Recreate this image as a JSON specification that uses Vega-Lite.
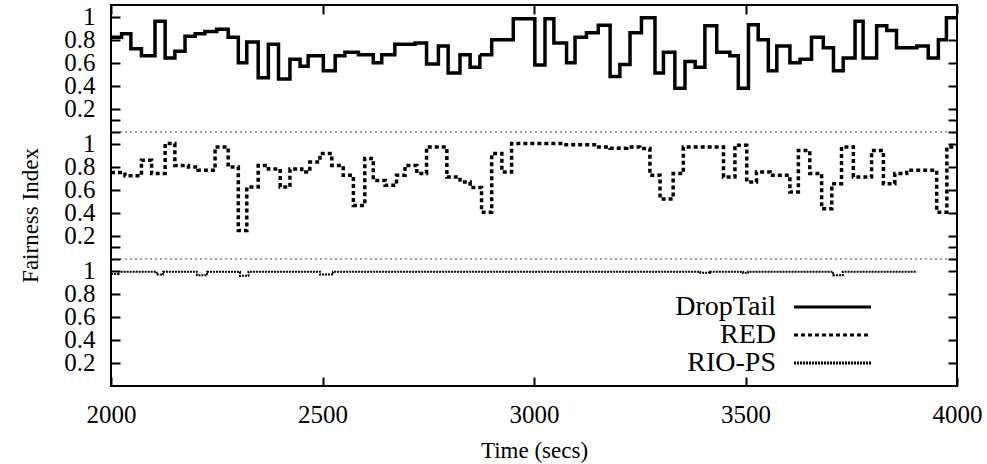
{
  "$schema": "https://vega.github.io/schema/vega-lite/v6.json",
  "width": 846,
  "height": 381,
  "autosize": {"type": "none"},
  "padding": {"left": 111, "top": 5, "right": 30, "bottom": 78},
  "background": "white",
  "config": {
    "font": "Liberation Serif",
    "view": {"stroke": "black", "strokeWidth": 2},
    "axis": {
      "grid": false,
      "domain": false,
      "ticks": true,
      "tickColor": "black",
      "tickWidth": 2,
      "labelColor": "black",
      "titleColor": "black",
      "labelFont": "Liberation Serif",
      "titleFont": "Liberation Serif",
      "labelFontSize": 25,
      "titleFontSize": 23,
      "titleFontWeight": "normal",
      "labelOverlap": false
    }
  },
  "data": {
    "values": [
      {"s": "DropTail", "t": 2000, "v": 0.82},
      {"s": "DropTail", "t": 2025, "v": 0.85},
      {"s": "DropTail", "t": 2047, "v": 0.72},
      {"s": "DropTail", "t": 2072, "v": 0.66},
      {"s": "DropTail", "t": 2104, "v": 0.96},
      {"s": "DropTail", "t": 2128, "v": 0.64},
      {"s": "DropTail", "t": 2151, "v": 0.70},
      {"s": "DropTail", "t": 2175, "v": 0.83},
      {"s": "DropTail", "t": 2199, "v": 0.85},
      {"s": "DropTail", "t": 2222, "v": 0.87},
      {"s": "DropTail", "t": 2250, "v": 0.89},
      {"s": "DropTail", "t": 2277, "v": 0.82},
      {"s": "DropTail", "t": 2301, "v": 0.60},
      {"s": "DropTail", "t": 2321, "v": 0.78},
      {"s": "DropTail", "t": 2348, "v": 0.47},
      {"s": "DropTail", "t": 2372, "v": 0.76},
      {"s": "DropTail", "t": 2396, "v": 0.46},
      {"s": "DropTail", "t": 2423, "v": 0.63},
      {"s": "DropTail", "t": 2447, "v": 0.57},
      {"s": "DropTail", "t": 2466, "v": 0.66},
      {"s": "DropTail", "t": 2502, "v": 0.53},
      {"s": "DropTail", "t": 2530, "v": 0.66},
      {"s": "DropTail", "t": 2553, "v": 0.69},
      {"s": "DropTail", "t": 2585, "v": 0.67},
      {"s": "DropTail", "t": 2620, "v": 0.60},
      {"s": "DropTail", "t": 2640, "v": 0.67},
      {"s": "DropTail", "t": 2671, "v": 0.76},
      {"s": "DropTail", "t": 2719, "v": 0.77},
      {"s": "DropTail", "t": 2746, "v": 0.59},
      {"s": "DropTail", "t": 2774, "v": 0.745},
      {"s": "DropTail", "t": 2797, "v": 0.51},
      {"s": "DropTail", "t": 2825, "v": 0.67},
      {"s": "DropTail", "t": 2849, "v": 0.56},
      {"s": "DropTail", "t": 2872, "v": 0.67},
      {"s": "DropTail", "t": 2900, "v": 0.80},
      {"s": "DropTail", "t": 2951, "v": 0.98},
      {"s": "DropTail", "t": 3002, "v": 0.58},
      {"s": "DropTail", "t": 3026, "v": 0.98},
      {"s": "DropTail", "t": 3047, "v": 0.77},
      {"s": "DropTail", "t": 3077, "v": 0.60},
      {"s": "DropTail", "t": 3097, "v": 0.82},
      {"s": "DropTail", "t": 3124, "v": 0.86},
      {"s": "DropTail", "t": 3152, "v": 0.925},
      {"s": "DropTail", "t": 3180, "v": 0.48},
      {"s": "DropTail", "t": 3203, "v": 0.585},
      {"s": "DropTail", "t": 3227, "v": 0.86},
      {"s": "DropTail", "t": 3254, "v": 0.99},
      {"s": "DropTail", "t": 3286, "v": 0.51},
      {"s": "DropTail", "t": 3306, "v": 0.69},
      {"s": "DropTail", "t": 3333, "v": 0.38},
      {"s": "DropTail", "t": 3357, "v": 0.61},
      {"s": "DropTail", "t": 3381, "v": 0.56},
      {"s": "DropTail", "t": 3404, "v": 0.92},
      {"s": "DropTail", "t": 3432, "v": 0.69},
      {"s": "DropTail", "t": 3463, "v": 0.66},
      {"s": "DropTail", "t": 3483, "v": 0.38},
      {"s": "DropTail", "t": 3507, "v": 0.93},
      {"s": "DropTail", "t": 3530, "v": 0.80},
      {"s": "DropTail", "t": 3554, "v": 0.53},
      {"s": "DropTail", "t": 3574, "v": 0.745},
      {"s": "DropTail", "t": 3605, "v": 0.60},
      {"s": "DropTail", "t": 3629, "v": 0.63},
      {"s": "DropTail", "t": 3656, "v": 0.82},
      {"s": "DropTail", "t": 3684, "v": 0.73},
      {"s": "DropTail", "t": 3708, "v": 0.53},
      {"s": "DropTail", "t": 3731, "v": 0.64},
      {"s": "DropTail", "t": 3759, "v": 0.96},
      {"s": "DropTail", "t": 3778, "v": 0.64},
      {"s": "DropTail", "t": 3810, "v": 0.92},
      {"s": "DropTail", "t": 3834, "v": 0.88},
      {"s": "DropTail", "t": 3857, "v": 0.73},
      {"s": "DropTail", "t": 3905, "v": 0.745},
      {"s": "DropTail", "t": 3932, "v": 0.64},
      {"s": "DropTail", "t": 3956, "v": 0.80},
      {"s": "DropTail", "t": 3975, "v": 0.99},
      {"s": "DropTail", "t": 4000, "v": 0.99},
      {"s": "RED", "t": 2000, "v": 0.75},
      {"s": "RED", "t": 2033, "v": 0.72},
      {"s": "RED", "t": 2072, "v": 0.855},
      {"s": "RED", "t": 2096, "v": 0.74},
      {"s": "RED", "t": 2128, "v": 1.0},
      {"s": "RED", "t": 2151, "v": 0.81},
      {"s": "RED", "t": 2183, "v": 0.797},
      {"s": "RED", "t": 2206, "v": 0.768},
      {"s": "RED", "t": 2246, "v": 0.97},
      {"s": "RED", "t": 2277, "v": 0.797},
      {"s": "RED", "t": 2301, "v": 0.246},
      {"s": "RED", "t": 2321, "v": 0.623},
      {"s": "RED", "t": 2348, "v": 0.81},
      {"s": "RED", "t": 2372, "v": 0.78},
      {"s": "RED", "t": 2400, "v": 0.623},
      {"s": "RED", "t": 2423, "v": 0.78},
      {"s": "RED", "t": 2451, "v": 0.754},
      {"s": "RED", "t": 2470, "v": 0.84},
      {"s": "RED", "t": 2494, "v": 0.913},
      {"s": "RED", "t": 2522, "v": 0.81},
      {"s": "RED", "t": 2549, "v": 0.725},
      {"s": "RED", "t": 2573, "v": 0.464},
      {"s": "RED", "t": 2600, "v": 0.87},
      {"s": "RED", "t": 2620, "v": 0.681},
      {"s": "RED", "t": 2648, "v": 0.638},
      {"s": "RED", "t": 2675, "v": 0.725},
      {"s": "RED", "t": 2695, "v": 0.81},
      {"s": "RED", "t": 2723, "v": 0.74},
      {"s": "RED", "t": 2746, "v": 0.97},
      {"s": "RED", "t": 2794, "v": 0.71},
      {"s": "RED", "t": 2825, "v": 0.667},
      {"s": "RED", "t": 2849, "v": 0.62},
      {"s": "RED", "t": 2876, "v": 0.406},
      {"s": "RED", "t": 2900, "v": 0.913},
      {"s": "RED", "t": 2924, "v": 0.754},
      {"s": "RED", "t": 2947, "v": 1.0},
      {"s": "RED", "t": 3069, "v": 0.99},
      {"s": "RED", "t": 3148, "v": 0.97},
      {"s": "RED", "t": 3180, "v": 0.96},
      {"s": "RED", "t": 3219, "v": 0.97},
      {"s": "RED", "t": 3250, "v": 0.957},
      {"s": "RED", "t": 3274, "v": 0.725},
      {"s": "RED", "t": 3298, "v": 0.52},
      {"s": "RED", "t": 3329, "v": 0.74},
      {"s": "RED", "t": 3353, "v": 0.97},
      {"s": "RED", "t": 3448, "v": 0.71},
      {"s": "RED", "t": 3475, "v": 0.985},
      {"s": "RED", "t": 3503, "v": 0.667},
      {"s": "RED", "t": 3526, "v": 0.754},
      {"s": "RED", "t": 3558, "v": 0.725},
      {"s": "RED", "t": 3605, "v": 0.58},
      {"s": "RED", "t": 3625, "v": 0.94},
      {"s": "RED", "t": 3652, "v": 0.74},
      {"s": "RED", "t": 3680, "v": 0.435},
      {"s": "RED", "t": 3704, "v": 0.652},
      {"s": "RED", "t": 3727, "v": 0.97},
      {"s": "RED", "t": 3755, "v": 0.71},
      {"s": "RED", "t": 3798, "v": 0.94},
      {"s": "RED", "t": 3826, "v": 0.652},
      {"s": "RED", "t": 3853, "v": 0.74},
      {"s": "RED", "t": 3881, "v": 0.768},
      {"s": "RED", "t": 3952, "v": 0.406},
      {"s": "RED", "t": 3976, "v": 0.97},
      {"s": "RED", "t": 4000, "v": 0.97},
      {"s": "RIO-PS", "t": 2000, "v": 0.97},
      {"s": "RIO-PS", "t": 2018, "v": 0.99},
      {"s": "RIO-PS", "t": 2108, "v": 0.965},
      {"s": "RIO-PS", "t": 2123, "v": 0.99},
      {"s": "RIO-PS", "t": 2203, "v": 0.96},
      {"s": "RIO-PS", "t": 2227, "v": 0.99},
      {"s": "RIO-PS", "t": 2305, "v": 0.955},
      {"s": "RIO-PS", "t": 2325, "v": 0.99},
      {"s": "RIO-PS", "t": 2494, "v": 0.965},
      {"s": "RIO-PS", "t": 2525, "v": 0.99},
      {"s": "RIO-PS", "t": 3393, "v": 0.98},
      {"s": "RIO-PS", "t": 3416, "v": 0.99},
      {"s": "RIO-PS", "t": 3494, "v": 0.98},
      {"s": "RIO-PS", "t": 3506, "v": 0.99},
      {"s": "RIO-PS", "t": 3707, "v": 0.96},
      {"s": "RIO-PS", "t": 3730, "v": 0.99},
      {"s": "RIO-PS", "t": 3905, "v": 0.99}
    ]
  },
  "layer": [
    {
      "data": {"values": [{}]},
      "mark": {"type": "rule", "strokeDash": [2, 3], "strokeWidth": 1, "color": "#444"},
      "encoding": {
        "y": {
          "datum": 1.1,
          "type": "quantitative",
          "scale": {"domain": [0, 3.3], "nice": false, "zero": false},
          "axis": {
            "orient": "right",
            "values": [0.2, 0.4, 0.6, 0.8, 1, 1.1, 1.2, 1.3, 1.5, 1.7, 1.9, 2.1, 2.2, 2.3, 2.4, 2.6, 2.8, 3.0, 3.2],
            "labels": false,
            "ticks": true,
            "tickSize": -9,
            "title": null
          }
        }
      }
    },
    {
      "data": {"values": [{}]},
      "mark": {"type": "rule", "strokeDash": [2, 3], "strokeWidth": 1, "color": "#444"},
      "encoding": {
        "y": {
          "datum": 2.2,
          "type": "quantitative",
          "scale": {"domain": [0, 3.3], "nice": false, "zero": false},
          "axis": null
        }
      }
    },
    {
      "transform": [{"filter": "datum.s === 'RIO-PS'"}],
      "mark": {"type": "line", "interpolate": "step-after", "color": "black", "strokeWidth": 2},
      "encoding": {
        "x": {
          "field": "t",
          "type": "quantitative",
          "scale": {"domain": [2000, 4000], "nice": false, "zero": false},
          "axis": {
            "orient": "bottom",
            "values": [2000, 2500, 3000, 3500, 4000],
            "format": "d",
            "tickSize": -9,
            "labelPadding": 25,
            "labelFlush": false,
            "title": "Time (secs)",
            "titleBaseline": "middle",
            "titleY": 64
          }
        },
        "y": {
          "field": "v",
          "type": "quantitative",
          "scale": {"domain": [0, 3.3], "nice": false, "zero": false},
          "axis": {
            "orient": "left",
            "values": [0.2, 0.4, 0.6, 0.8, 1, 1.1, 1.2, 1.3, 1.5, 1.7, 1.9, 2.1, 2.2, 2.3, 2.4, 2.6, 2.8, 3.0, 3.2],
            "labelExpr": "indexof([1.1, 1.2, 2.2, 2.3], datum.value) >= 0 ? '' : format(datum.value > 2.15 ? datum.value - 2.2 : (datum.value > 1.05 ? datum.value - 1.1 : datum.value), '.1~f')",
            "tickSize": -9,
            "labelPadding": 25,
            "labelBaseline": "middle",
            "title": "Fairness Index",
            "titleBaseline": "middle",
            "titleX": -81,
            "titleY": 210
          }
        },
        "strokeDash": {
          "field": "s",
          "type": "nominal",
          "scale": {"domain": ["DropTail", "RED", "RIO-PS"], "range": [[1, 0], [4, 3], [2, 1]]}
        }
      }
    },
    {
      "transform": [{"filter": "datum.s === 'RED'"}],
      "mark": {"type": "line", "interpolate": "step-after", "color": "black", "strokeWidth": 3.5},
      "encoding": {
        "x": {
          "field": "t",
          "type": "quantitative",
          "scale": {"domain": [2000, 4000], "nice": false, "zero": false},
          "axis": {
            "orient": "top",
            "values": [2000, 2500, 3000, 3500, 4000],
            "ticks": true,
            "tickSize": -9,
            "labels": false,
            "title": null
          }
        },
        "y": {
          "field": "v",
          "type": "quantitative",
          "scale": {"domain": [-1.1, 2.2], "nice": false, "zero": false},
          "axis": null
        },
        "strokeDash": {
          "field": "s",
          "type": "nominal",
          "scale": {"domain": ["DropTail", "RED", "RIO-PS"], "range": [[1, 0], [4, 3], [2, 1]]}
        }
      }
    },
    {
      "transform": [{"filter": "datum.s === 'DropTail'"}],
      "mark": {"type": "line", "interpolate": "step-after", "color": "black", "strokeWidth": 3.5},
      "encoding": {
        "x": {
          "field": "t",
          "type": "quantitative",
          "scale": {"domain": [2000, 4000], "nice": false, "zero": false},
          "axis": null
        },
        "y": {
          "field": "v",
          "type": "quantitative",
          "scale": {"domain": [-2.2, 1.1], "nice": false, "zero": false},
          "axis": null
        },
        "strokeDash": {
          "field": "s",
          "type": "nominal",
          "scale": {"domain": ["DropTail", "RED", "RIO-PS"], "range": [[1, 0], [4, 3], [2, 1]]},
          "legend": {
            "orient": "none",
            "legendX": 707.5,
            "legendY": 288,
            "direction": "vertical",
            "title": null,
            "padding": 0,
            "rowPadding": -3.5,
            "symbolType": "M-3.85,0H3.85",
            "symbolSize": 400,
            "symbolStrokeColor": "black",
            "symbolStrokeWidth": 3,
            "labelFont": "Liberation Serif",
            "labelFontSize": 28,
            "labelColor": "black",
            "labelAlign": "right",
            "labelOffset": -70.5,
            "labelLimit": 300
          }
        }
      }
    }
  ],
  "resolve": {"scale": {"x": "independent", "y": "independent"}}
}
